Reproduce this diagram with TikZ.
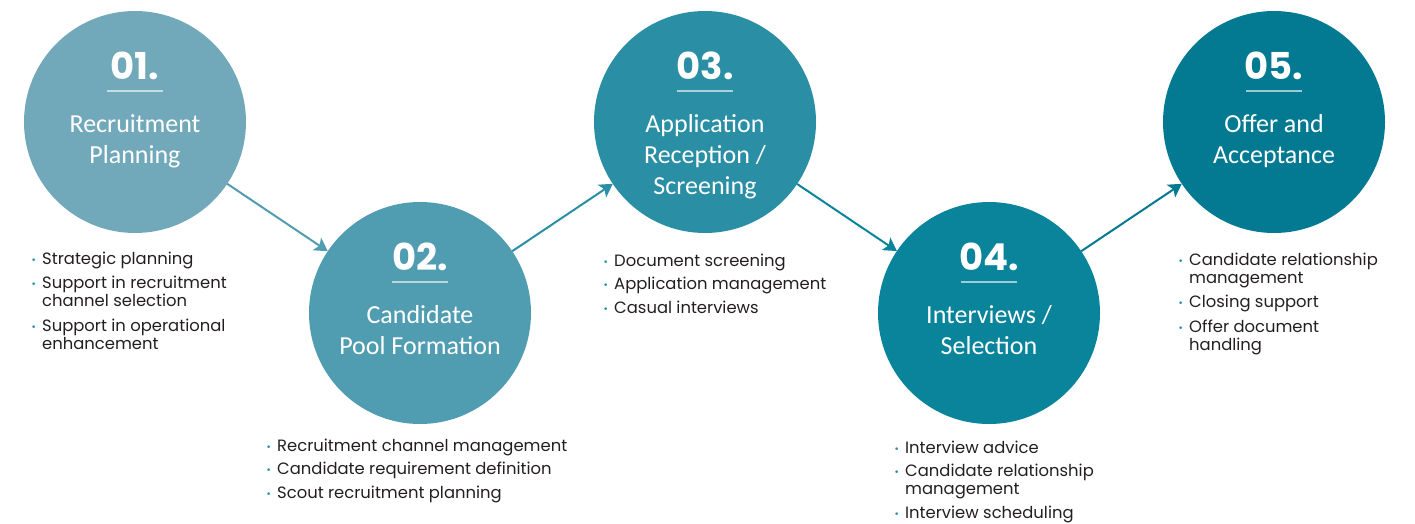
\documentclass[tikz,border=0pt]{standalone}
\usepackage{fontspec}
\setmainfont{Carlito}
\newfontfamily\numfont{Poppins}
\newfontfamily\listfont{Poppins}
\newfontfamily\dotfont{DejaVu Sans}
\usetikzlibrary{arrows.meta}

\definecolor{stepA}{RGB}{114,169,186}
\definecolor{stepB}{RGB}{80,157,177}
\definecolor{stepC}{RGB}{42,143,165}
\definecolor{stepD}{RGB}{10,132,155}
\definecolor{stepE}{RGB}{3,122,146}
\definecolor{ink}{RGB}{35,31,32}
\definecolor{dotc}{RGB}{40,140,160}

\tikzset{
  stepcircle/.style={circle,minimum size=222pt,inner sep=0pt,outer sep=0pt,fill=#1},
  stepnum/.style={text=white,font=\numfont\bfseries\fontsize{37}{40}\selectfont,anchor=base,inner sep=0pt},
  steprule/.style={draw=white,draw opacity=0.6,line width=1.5pt},
  steplabel/.style={text=white,font=\fontsize{26}{31}\selectfont,anchor=base,inner sep=0pt},
  steplist/.style={text=ink,font=\listfont\fontsize{16.4}{18}\selectfont,anchor=base west,inner sep=0pt},
  flow/.style={line width=2pt,draw=#1,-{Stealth[length=13pt,width=15pt,inset=3pt]}},
}
\newcommand\lbl[1]{\begin{tabular}[t]{@{}c@{}}#1\end{tabular}}
\newcommand\lst[1]{\begin{tabular}[t]{@{}l@{}l@{}}#1\end{tabular}}
\newcommand\bul{\makebox[11pt][l]{\textcolor{dotc}{\raisebox{1pt}{\dotfont\fontsize{9}{9}\selectfont •}}}}

\begin{document}
\begin{tikzpicture}[x=1pt,y=-1pt]
    \useasboundingbox (0,0) rectangle (1415,523);

    \node[stepcircle=stepA] (s1) at (135,122) {};
    \node[stepcircle=stepB] (s2) at (420,313) {};
    \node[stepcircle=stepC] (s3) at (705,122) {};
    \node[stepcircle=stepD] (s4) at (989,313) {};
    \node[stepcircle=stepE] (s5) at (1274,122) {};

    \draw[flow=stepB] (s1) -- (s2);
    \draw[flow=stepC] (s2) -- (s3);
    \draw[flow=stepD] (s3) -- (s4);
    \draw[flow=stepE] (s4) -- (s5);

    \node[stepnum] (n1) at (135,79.5) {01.};
    \node[stepnum] (n2) at (420,270.5) {02.};
    \node[stepnum] (n3) at (705,79.5) {03.};
    \node[stepnum] (n4) at (989,270.5) {04.};
    \node[stepnum] (n5) at (1274,79.5) {05.};

    \draw[steprule] (107,91) -- (163,91);
    \draw[steprule] (392,282) -- (448,282);
    \draw[steprule] (677,91) -- (733,91);
    \draw[steprule] (961,282) -- (1017,282);
    \draw[steprule] (1246,91) -- (1302,91);

    \node[steplabel] (t1) at (135,132) {\lbl{Recruitment\\Planning}};
    \node[steplabel] (t2) at (420,323) {\lbl{Candidate\\Pool Formation}};
    \node[steplabel] (t3) at (705,132) {\lbl{Application\\Reception /\\Screening}};
    \node[steplabel] (t4) at (989,323) {\lbl{Interviews /\\Selection}};
    \node[steplabel] (t5) at (1274,132) {\lbl{Offer and\\Acceptance}};

    \node[steplist] (l1) at (31,264) {\lst{\bul & Strategic planning\\[6.5pt]
        \bul & Support in recruitment\\ & channel selection\\[6.5pt]
        \bul & Support in operational\\ & enhancement}};
    \node[steplist] (l2) at (266,451) {\lst{\bul & Recruitment channel management\\[5.5pt]
        \bul & Candidate requirement definition\\[5.5pt]
        \bul & Scout recruitment planning}};
    \node[steplist] (l3) at (603,266) {\lst{\bul & Document screening\\[5.5pt]
        \bul & Application management\\[5.5pt]
        \bul & Casual interviews}};
    \node[steplist] (l4) at (894,453) {\lst{\bul & Interview advice\\[5.5pt]
        \bul & Candidate relationship\\ & management\\[5.5pt]
        \bul & Interview scheduling}};
    \node[steplist] (l5) at (1178,265) {\lst{\bul & Candidate relationship\\ & management\\[6.5pt]
        \bul & Closing support\\[6.5pt]
        \bul & Offer document\\ & handling}};

\end{tikzpicture}
\end{document}
